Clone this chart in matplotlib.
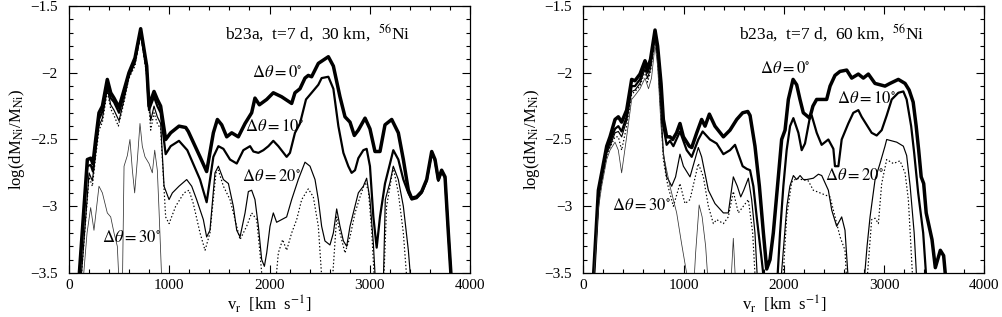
import numpy as np
import matplotlib.pyplot as plt
from matplotlib.ticker import MultipleLocator

plt.rcParams['font.family'] = ['Liberation Serif', 'DejaVu Serif']
plt.rcParams['mathtext.fontset'] = 'stix'

# ---- left panel: 30 km ----
left_v_0 = [80, 183, 216, 239, 266, 299, 333, 382, 416, 449, 499, 549, 598, 658, 715, 775, 798,
            848, 881, 914, 964, 1014, 1097, 1164, 1190, 1307, 1373, 1440, 1480, 1523, 1573, 1623,
            1689, 1756, 1822, 1855, 1899, 1972, 2038, 2121, 2221, 2254, 2304, 2354, 2387, 2420,
            2487, 2587, 2637, 2703, 2753, 2803, 2846, 2886, 2953, 3002, 3052, 3102, 3152, 3219,
            3285, 3335, 3385, 3418, 3468, 3518, 3568, 3618, 3651, 3684, 3717, 3751, 3784, 3830]
left_y_0 = [-3.75, -2.65, -2.64, -2.68, -2.50, -2.30, -2.25, -2.05, -2.15, -2.19, -2.26, -2.13,
            -2.00, -1.89, -1.67, -1.95, -2.25, -2.14, -2.20, -2.25, -2.50, -2.45, -2.40, -2.41,
            -2.44, -2.63, -2.74, -2.45, -2.35, -2.39, -2.48, -2.45, -2.48, -2.38, -2.30, -2.19,
            -2.24, -2.20, -2.15, -2.18, -2.23, -2.15, -2.12, -2.04, -2.02, -2.03, -1.93, -1.88,
            -1.95, -2.18, -2.33, -2.37, -2.47, -2.43, -2.34, -2.42, -2.59, -2.59, -2.39, -2.35,
            -2.45, -2.65, -2.88, -2.94, -2.93, -2.89, -2.80, -2.59, -2.65, -2.80, -2.73, -2.78,
            -3.20, -3.75]

left_v_10 = [80, 183, 216, 239, 266, 299, 333, 382, 416, 449, 499, 549, 598, 658, 715, 775, 798,
             848, 881, 914, 964, 1014, 1097, 1180, 1307, 1373, 1440, 1490, 1540, 1606, 1673, 1739,
             1806, 1839, 1889, 1939, 1989, 2038, 2088, 2171, 2204, 2254, 2304, 2364, 2420, 2487,
             2520, 2587, 2637, 2687, 2737, 2786, 2819, 2853, 2886, 2936, 2969, 3002, 3036, 3069,
             3102, 3152, 3202, 3235, 3285, 3335, 3385, 3418, 3468, 3518, 3568, 3618, 3651, 3684,
             3717, 3751, 3784, 3830]
left_y_10 = [-3.75, -2.70, -2.69, -2.74, -2.55, -2.35, -2.29, -2.08, -2.19, -2.22, -2.30, -2.16,
             -2.02, -1.91, -1.69, -1.97, -2.28, -2.18, -2.25, -2.30, -2.61, -2.55, -2.51, -2.58,
             -2.80, -2.97, -2.63, -2.55, -2.57, -2.65, -2.68, -2.58, -2.55, -2.59, -2.60, -2.58,
             -2.55, -2.51, -2.55, -2.63, -2.60, -2.45, -2.38, -2.20, -2.15, -2.09, -2.04, -2.03,
             -2.12, -2.40, -2.60, -2.70, -2.75, -2.73, -2.64, -2.58, -2.57, -2.70, -3.08, -3.31,
             -3.08, -2.83, -2.68, -2.58, -2.65, -2.80, -2.90, -2.95, -2.94, -2.90, -2.81, -2.60,
             -2.66, -2.81, -2.74, -2.79, -3.20, -3.75]

left_v_20 = [100, 200, 233, 266, 299, 333, 382, 416, 449, 499, 549, 598, 658, 715, 775, 815, 848,
             881, 914, 948, 998, 1031, 1097, 1174, 1224, 1273, 1340, 1373, 1406, 1456, 1490, 1540,
             1590, 1639, 1673, 1706, 1756, 1789, 1822, 1855, 1889, 1922, 1949, 1972, 2005, 2038,
             2071, 2121, 2171, 2221, 2287, 2354, 2404, 2454, 2487, 2520, 2553, 2603, 2637, 2670,
             2703, 2737, 2770, 2803, 2836, 2886, 2936, 2969, 3002, 3036, 3070, 3130, 3155, 3202,
             3235, 3285, 3335, 3385, 3430]
left_y_20 = [-3.75, -2.75, -2.81, -2.60, -2.40, -2.34, -2.12, -2.24, -2.28, -2.36, -2.20, -2.03,
             -1.93, -1.70, -2.00, -2.36, -2.25, -2.33, -2.38, -2.85, -2.95, -2.90, -2.85, -2.80,
             -2.85, -2.95, -3.10, -3.23, -3.18, -2.75, -2.70, -2.80, -2.83, -3.00, -3.18, -3.23,
             -3.05, -2.89, -2.88, -2.95, -3.15, -3.40, -3.45, -3.35, -3.15, -3.05, -3.12, -3.10,
             -3.08, -2.95, -2.80, -2.67, -2.70, -2.80, -2.95, -3.15, -3.26, -3.29, -3.20, -3.02,
             -3.15, -3.26, -3.30, -3.15, -3.05, -2.90, -2.85, -2.79, -2.95, -3.28, -3.75, -3.75,
             -2.95, -2.82, -2.70, -2.80, -3.00, -3.33, -3.75]

left_v_dot = [100, 200, 233, 266, 299, 333, 382, 416, 449, 492, 549, 598, 658, 715, 775, 815, 848,
              881, 914, 964, 998, 1064, 1147, 1197, 1240, 1307, 1357, 1406, 1466, 1490, 1540, 1606,
              1656, 1706, 1772, 1822, 1872, 1905, 1950, 2040, 2088, 2131, 2171, 2221, 2271, 2321,
              2387, 2437, 2487, 2540, 2610, 2670, 2703, 2753, 2803, 2853, 2903, 2953, 2986, 3019,
              3060, 3130, 3168, 3202, 3235, 3285, 3335, 3390]
left_y_dot = [-3.75, -2.78, -2.85, -2.63, -2.43, -2.37, -2.14, -2.27, -2.32, -2.40, -2.22, -2.04,
              -1.95, -1.71, -2.02, -2.43, -2.30, -2.38, -2.42, -3.08, -3.13, -3.00, -2.90, -2.88,
              -2.98, -3.20, -3.33, -3.20, -2.75, -2.73, -2.85, -2.95, -3.10, -3.25, -3.15, -3.05,
              -3.10, -3.35, -3.75, -3.75, -3.35, -3.25, -3.33, -3.20, -3.10, -2.95, -2.87, -2.93,
              -3.15, -3.75, -3.75, -3.08, -3.20, -3.35, -3.23, -3.05, -2.93, -2.82, -2.88, -3.18,
              -3.75, -3.75, -3.00, -2.85, -2.71, -2.90, -3.20, -3.75]

left_v_30 = [120, 180, 216, 249, 299, 333, 382, 416, 449, 482, 510, 530, 549, 582, 608, 632, 655,
             682, 708, 731, 758, 798, 831, 855, 881, 898, 935]
left_y_30 = [-3.75, -3.20, -3.01, -3.18, -2.85, -2.90, -3.05, -3.08, -3.20, -3.30, -3.75, -3.75,
             -2.70, -2.62, -2.50, -2.73, -2.90, -2.65, -2.38, -2.55, -2.63, -2.68, -2.75, -2.58,
             -2.73, -3.03, -3.75]

# ---- right panel: 60 km ----
right_v_0 = [85, 150, 183, 233, 266, 316, 349, 382, 432, 482, 515, 565, 615, 640, 670, 715, 741,
             775, 798, 831, 864, 891, 930, 964, 998, 1057, 1081, 1131, 1180, 1214, 1257, 1313, 1397,
             1463, 1530, 1589, 1640, 1663, 1712, 1756, 1796, 1829, 1862, 1895, 1945, 1978, 2012,
             2045, 2092, 2128, 2161, 2194, 2258, 2290, 2327, 2427, 2461, 2510, 2560, 2627, 2677,
             2743, 2793, 2843, 2909, 3009, 3059, 3142, 3209, 3250, 3290, 3320, 3345, 3370, 3395,
             3420, 3478, 3511, 3561, 3594, 3640]
right_y_0 = [-3.75, -2.88, -2.75, -2.55, -2.48, -2.35, -2.33, -2.37, -2.28, -2.05, -2.06, -2.01,
             -1.91, -1.97, -1.90, -1.68, -1.80, -2.08, -2.35, -2.48, -2.48, -2.50, -2.45, -2.38,
             -2.48, -2.55, -2.56, -2.45, -2.35, -2.40, -2.31, -2.40, -2.48, -2.43, -2.35, -2.30,
             -2.29, -2.32, -2.55, -2.85, -3.20, -3.47, -3.40, -3.20, -2.78, -2.50, -2.43, -2.20,
             -2.05, -2.09, -2.20, -2.30, -2.34, -2.25, -2.20, -2.20, -2.10, -2.02, -1.99, -1.98,
             -2.04, -2.01, -2.04, -2.01, -2.08, -2.10, -2.08, -2.05, -2.08, -2.13, -2.22, -2.40,
             -2.58, -2.78, -2.83, -3.05, -3.25, -3.46, -3.33, -3.37, -3.75]

right_v_10 = [85, 150, 183, 233, 266, 316, 349, 382, 432, 482, 515, 565, 615, 640, 670, 715, 741,
              775, 798, 831, 864, 898, 964, 1031, 1081, 1147, 1190, 1263, 1330, 1397, 1463, 1513,
              1589, 1630, 1663, 1696, 1729, 1779, 1830, 1920, 1962, 1995, 2028, 2062, 2095, 2145,
              2178, 2211, 2261, 2278, 2328, 2377, 2444, 2494, 2510, 2544, 2577, 2643, 2693, 2743,
              2776, 2826, 2876, 2926, 2976, 3026, 3076, 3142, 3192, 3225, 3270, 3300, 3340, 3390,
              3440]
right_y_10 = [-3.75, -2.92, -2.78, -2.58, -2.52, -2.42, -2.40, -2.44, -2.33, -2.10, -2.10, -2.05,
              -1.94, -2.00, -1.93, -1.70, -1.83, -2.12, -2.40, -2.54, -2.51, -2.55, -2.44, -2.58,
              -2.63, -2.50, -2.44, -2.50, -2.53, -2.61, -2.58, -2.54, -2.70, -2.72, -2.73, -2.85,
              -3.08, -3.40, -3.75, -3.75, -3.20, -2.85, -2.58, -2.40, -2.34, -2.45, -2.58, -2.53,
              -2.33, -2.32, -2.45, -2.54, -2.50, -2.57, -2.70, -2.70, -2.50, -2.38, -2.30, -2.28,
              -2.33, -2.39, -2.45, -2.47, -2.43, -2.32, -2.20, -2.15, -2.14, -2.20, -2.40, -2.60,
              -2.90, -3.20, -3.75]

right_v_20 = [85, 150, 183, 233, 266, 316, 349, 382, 432, 482, 515, 565, 615, 640, 670, 715, 741,
              775, 798, 831, 848, 881, 920, 964, 998, 1064, 1147, 1180, 1247, 1313, 1397, 1446,
              1496, 1536, 1570, 1600, 1646, 1679, 1712, 1750, 1950, 1995, 2030, 2060, 2095, 2128,
              2162, 2195, 2228, 2294, 2345, 2378, 2444, 2478, 2527, 2577, 2610, 2660, 2780, 2830,
              2860, 2910, 2959, 3009, 3026, 3076, 3126, 3192, 3225, 3260, 3300, 3340]
right_y_20 = [-3.75, -2.95, -2.80, -2.60, -2.55, -2.45, -2.44, -2.48, -2.36, -2.14, -2.13, -2.08,
              -1.97, -2.04, -1.97, -1.73, -1.88, -2.30, -2.60, -2.78, -2.80, -2.85, -2.78, -2.61,
              -2.70, -2.78, -2.56, -2.63, -2.88, -2.98, -3.05, -3.05, -2.78, -2.85, -2.93, -2.88,
              -2.79, -2.95, -3.20, -3.75, -3.75, -3.33, -3.00, -2.85, -2.77, -2.80, -2.77, -2.80,
              -2.80, -2.79, -2.76, -2.77, -2.88, -3.03, -3.15, -3.08, -3.18, -3.75, -3.75, -3.30,
              -3.08, -2.80, -2.68, -2.55, -2.50, -2.51, -2.52, -2.55, -2.62, -2.85, -3.20, -3.75]

right_v_dot = [85, 150, 183, 233, 266, 316, 349, 382, 432, 482, 515, 565, 615, 640, 670, 715, 741,
               775, 798, 831, 848, 898, 964, 1014, 1064, 1147, 1197, 1247, 1297, 1330, 1397, 1446,
               1496, 1546, 1596, 1646, 1689, 1730, 1975, 2028, 2078, 2128, 2178, 2244, 2294, 2361,
               2461, 2511, 2561, 2610, 2640, 2810, 2876, 2910, 2943, 2976, 3026, 3092, 3159, 3209,
               3242, 3300]
right_y_dot = [-3.75, -2.97, -2.82, -2.62, -2.56, -2.48, -2.48, -2.58, -2.40, -2.16, -2.14, -2.10,
               -1.99, -2.07, -1.99, -1.75, -1.90, -2.32, -2.65, -2.80, -2.86, -3.00, -2.83, -2.98,
               -2.95, -2.68, -2.78, -3.00, -3.13, -3.10, -3.13, -3.08, -2.89, -3.05, -3.00, -2.95,
               -3.20, -3.75, -3.75, -3.08, -2.82, -2.79, -2.80, -2.81, -2.88, -2.90, -2.93, -3.08,
               -3.23, -3.33, -3.75, -3.75, -3.10, -3.09, -3.13, -2.83, -2.65, -2.68, -2.66, -2.75,
               -2.95, -3.75]

right_v_30 = [85, 150, 183, 233, 266, 316, 349, 382, 432, 482, 515, 565, 615, 650, 680, 715, 741,
              775, 800, 831, 864, 931, 980, 1030, 1060, 1090, 1120, 1155, 1185, 1220, 1260, 1460,
              1496, 1530]
right_y_30 = [-3.75, -3.02, -2.85, -2.65, -2.58, -2.52, -2.58, -2.75, -2.48, -2.20, -2.17, -2.12,
              -2.04, -2.12, -2.04, -1.79, -1.95, -2.40, -2.62, -2.73, -2.85, -3.05, -3.28, -3.50,
              -3.75, -3.75, -3.35, -2.99, -3.08, -3.30, -3.75, -3.75, -3.24, -3.75]

panel_titles = [r"b23a,  t=7 d,  30 km,  $^{\rm 56}$Ni", r"b23a,  t=7 d,  60 km,  $^{\rm 56}$Ni"]
dtheta_labels = [r"$\Delta\theta = 0^{\circ}$", r"$\Delta\theta = 10^{\circ}$",
                 r"$\Delta\theta = 20^{\circ}$", r"$\Delta\theta = 30^{\circ}$"]

styles = [dict(color='black', lw=2.5, ls='-'),
          dict(color='black', lw=1.6, ls='-'),
          dict(color='black', lw=0.85, ls='-'),
          dict(color='black', lw=0.85, ls=(0, (1.2, 1.8))),
          dict(color='#333333', lw=0.55, ls='-')]

left_curves = [(left_v_0, left_y_0), (left_v_10, left_y_10), (left_v_20, left_y_20),
               (left_v_dot, left_y_dot), (left_v_30, left_y_30)]
right_curves = [(right_v_0, right_y_0), (right_v_10, right_y_10), (right_v_20, right_y_20),
                (right_v_dot, right_y_dot), (right_v_30, right_y_30)]

# label anchor positions (left edge, centre) in data coords
left_label_pos = [(1825, -2.0), (1756, -2.41), (1726, -2.78), (326, -3.24)]
right_label_pos = [(1763, -1.97), (2527, -2.20), (2411, -2.77), (283, -3.00)]

fig = plt.figure(figsize=(10.03, 3.17), dpi=100)
ax1 = fig.add_axes([0.0688, 0.1388, 0.3998, 0.8423])
ax2 = fig.add_axes([0.5816, 0.1388, 0.3998, 0.8423])


def draw_panel(ax, curves, title, label_pos):
    for (v, y), st in zip(curves, styles):
        ax.plot(v, y, solid_joinstyle='round', **st)
    ax.set_xlim(0, 4000)
    ax.set_ylim(-3.5, -1.5)
    ax.xaxis.set_major_locator(MultipleLocator(1000))
    ax.xaxis.set_minor_locator(MultipleLocator(200))
    ax.yaxis.set_major_locator(MultipleLocator(0.5))
    ax.yaxis.set_minor_locator(MultipleLocator(0.1))
    ax.yaxis.set_major_formatter(plt.FuncFormatter(lambda val, pos: ('%g' % val).replace('-', '\u2212')))
    ax.tick_params(which='both', direction='in', top=True, right=True, labelsize=11)
    ax.tick_params(which='major', length=6, width=0.8)
    ax.tick_params(which='minor', length=3, width=0.8)
    ax.tick_params(axis='y', pad=8)
    ax.tick_params(axis='x', pad=4)
    for sp in ax.spines.values():
        sp.set_linewidth(0.9)
    ax.set_xlabel(r"v$_{\rm r}$  [km  s$^{-1}$]", fontsize=12, labelpad=1)
    ax.set_ylabel(r"log(dM$_{\rm Ni}$/M$_{\rm Ni}$)", fontsize=12, labelpad=2)
    ax.text(1556, -1.70, title, fontsize=12.5, va='center', ha='left')
    for lab, (x, y) in zip(dtheta_labels, label_pos):
        ax.text(x, y, lab, fontsize=12, va='center', ha='left')


draw_panel(ax1, left_curves, panel_titles[0], left_label_pos)
draw_panel(ax2, right_curves, panel_titles[1], right_label_pos)

fig.savefig('out.png', dpi=100)
